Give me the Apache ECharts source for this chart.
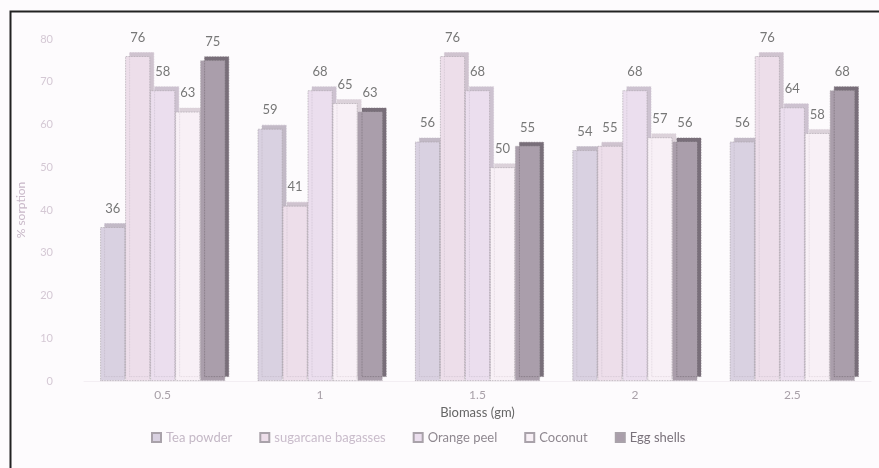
<!DOCTYPE html>
<html>
<head>
<meta charset="utf-8">
<script src="https://cdn.jsdelivr.net/npm/echarts@6/dist/echarts.min.js"></script>
<style>
  html, body { margin: 0; padding: 0; background: #fdfbfd; }
  #chart { width: 879px; height: 468px; }
</style>
</head>
<body>
<div id="chart"></div>
<script>
const categories = ['0.5', '1', '1.5', '2', '2.5'];
const seriesNames = ['Tea powder', 'sugarcane bagasses', 'Orange peel', 'Coconut', 'Egg shells'];
const teaPowder = [36, 59, 56, 54, 56];
const sugarcane = [76, 41, 76, 55, 76];
const orangePeel = [68, 68, 68, 68, 64];
const orangePeelLabels = ['58', '68', '68', '68', '64'];
const coconut = [63, 65, 50, 57, 58];
const eggShells = [75, 63, 55, 56, 68];
const yTicks = [0, 10, 20, 30, 40, 50, 60, 70, 80];

const colors = ['#d9d1e1', '#eddeea', '#ebdeee', '#f8f0f6', '#aa9eab'];
const sideColors = ['#c2b9c6', '#cfc3cf', '#cdc2d0', '#dcd2da', '#786e79'];
const legendTextColors = ['#c4b8c6', '#c9bccb', '#8f8890', '#8f8890', '#7a727b'];
const allValues = [teaPowder, sugarcane, orangePeel, coconut, eggShells];
const labelTexts = [null, null, orangePeelLabels, null, null];

const chart = echarts.init(document.getElementById('chart'));
chart.setOption({
  backgroundColor: '#fdfbfd',
  animation: false,
  textStyle: { fontFamily: 'Lato' },
  graphic: [{
    type: 'rect', shape: { x: 10.5, y: 11.5, width: 900, height: 500 },
    style: { fill: 'none', stroke: '#222', lineWidth: 2 }, silent: true, z: 100
  }],
  grid: { left: 84, right: 8, top: 39, bottom: 87 },
  legend: {
    top: 426, left: 146, itemWidth: 9, itemHeight: 9, itemGap: 27,
    icon: 'rect',
    data: seriesNames.map((n, i) => ({ name: n, textStyle: { color: legendTextColors[i] } })),
    textStyle: { fontSize: 13, fontFamily: 'Lato' }
  },
  xAxis: {
    type: 'category', data: categories,
    name: 'Biomass (gm)', nameLocation: 'middle', nameGap: 23,
    nameTextStyle: { color: '#666', fontSize: 13, fontFamily: 'Lato' },
    axisLine: { show: true, lineStyle: { color: '#f3eef3' } },
    axisTick: { show: false },
    axisLabel: { color: '#a8a0a8', fontSize: 12, margin: 8 }
  },
  yAxis: {
    type: 'value', min: 0, max: 80, interval: 10,
    name: '% sorption', nameLocation: 'middle', nameGap: 57, nameRotate: 90,
    nameTextStyle: { color: '#c8b8c8', fontSize: 12 },
    axisLine: { show: false }, axisTick: { show: false },
    splitLine: { show: false },
    axisLabel: { color: '#d4c8d4', fontSize: 11, margin: 31,
      formatter: v => yTicks.includes(v) ? String(v) : '' }
  },
  series: seriesNames.map((name, i) => ({
    name, type: 'bar', barWidth: 25, barGap: '0%',
    data: allValues[i],
    itemStyle: {
      color: colors[i], borderColor: '#a9a2aa', borderWidth: 0.8, borderType: 'dotted',
      shadowColor: sideColors[i], shadowOffsetX: 4, shadowOffsetY: -4, shadowBlur: 0
    },
    label: {
      show: true, position: 'top', distance: 12, color: '#777', fontSize: 13,
      formatter: p => labelTexts[i] ? labelTexts[i][p.dataIndex] : String(p.value)
    }
  }))
});
</script>
</body>
</html>
